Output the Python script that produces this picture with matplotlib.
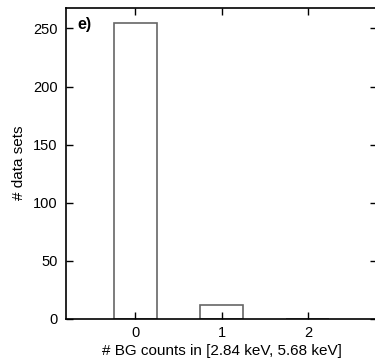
import matplotlib
matplotlib.use("Agg")
import matplotlib.pyplot as plt

plt.rcParams['font.family'] = ['Liberation Sans', 'DejaVu Sans']

# histogram data
bg_counts = [0, 1, 2]
n_sets = [255, 12, 0]

fig = plt.figure(figsize=(3.75, 3.61), dpi=100)
ax = fig.add_axes([66/375, 1 - 319/361, 311/375, 311.5/361])

ax.bar(bg_counts, n_sets, width=0.5, facecolor='white', edgecolor='#666666', linewidth=1.2, zorder=1)

ax.set_xlim(-0.8, 2.8)
ax.set_ylim(0, 268)
ax.set_xticks(bg_counts)
ax.set_yticks([0, 50, 100, 150, 200, 250])
ax.tick_params(direction='in', top=True, right=True, length=5, width=1, labelsize=10.5)
ax.tick_params(axis='y', pad=6)
ax.tick_params(axis='x', pad=5)
for s in ax.spines.values():
    s.set_linewidth(1.2)
    s.set_zorder(3)

ax.set_xlabel('# BG counts in [2.84 keV, 5.68 keV]', fontsize=11, labelpad=3)
ax.set_ylabel('# data sets', fontsize=11, labelpad=5)
ax.text(0.035, 0.97, 'e)', transform=ax.transAxes, fontsize=11.5, fontweight='bold', va='top', ha='left')

fig.savefig('out.png', dpi=100)
